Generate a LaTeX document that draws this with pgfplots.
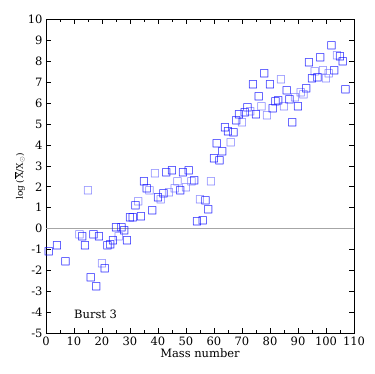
\documentclass[border=0pt]{standalone}
\usepackage{fontspec}
\setmainfont{DejaVu Serif}
\newfontfamily\symf{DejaVu Sans}
\usepackage{pgfplots}
\pgfplotsset{compat=1.18}
\definecolor{dkb}{RGB}{0,0,255}
\definecolor{ltb}{RGB}{110,110,255}

% open squares set as a coloured glyph, so that they keep their colour
\newcommand{\sqmark}[1]{\textcolor{#1}{\fontsize{10.5}{12}\symf\bfseries\char"25A1}}

\pgfplotstableread{
x y
1 -1.1
4 -0.8
7 -1.56
13 -0.4
14 -0.8
16 -2.36
17 -0.29
18 -2.76
19 -0.38
21 -1.93
22 -0.81
23 -0.76
24 -0.57
25 0.03
27 0.05
28 -0.1
29 -0.56
30 0.51
31 0.51
32 1.07
34 0.59
35 2.23
36 1.91
38 0.86
40 1.46
42 1.66
43 2.69
45 2.77
48 1.8
49 2.69
51 2.75
53 2.29
54 0.32
56 0.37
57 1.31
58 0.91
60 3.36
61 4.04
62 3.22
63 3.69
64 4.82
65 4.63
67 4.6
68 5.14
69 5.46
71 5.54
72 5.75
74 6.88
75 5.45
76 6.29
78 7.39
80 6.85
81 5.73
82 6.07
83 6.1
86 6.59
87 6.15
88 5.08
90 5.84
93 6.67
94 7.91
95 7.15
97 7.23
98 8.17
102 8.73
103 7.53
105 8.2
106 7.99
107 6.64
}\dark

\pgfplotstableread{
x y
12 -0.27
15 1.82
20 -1.67
26 -0.41
33 1.29
37 1.8
39 2.61
41 1.4
44 1.7
46 1.89
47 2.26
50 1.97
52 2.25
55 1.4
59 2.26
66 4.12
70 5.08
73 5.59
77 5.83
79 5.38
84 7.13
85 5.83
89 6.24
91 6.51
92 6.39
96 7.47
99 7.53
100 7.15
101 7.39
104 8.28
}\light

\begin{document}
\begin{tikzpicture}
\useasboundingbox (-46pt,-40.7pt) rectangle (328pt,333.3pt);
\begin{axis}[
    at={(0,0)}, anchor=south west,
    scale only axis,
    width=308pt, height=314pt,
    xmin=0, xmax=110, ymin=-5, ymax=10,
    clip=false,
    xtick={0,10,...,110},
    minor x tick num=1,
    ytick={-5,-4,...,10},
    tick align=inside,
    major tick length=5pt,
    minor tick length=3pt,
    tick style={black, line width=0.6pt},
    axis line style={line width=0.6pt},
    /pgf/number format/assume math mode=true,
    xlabel={Mass number},
    ylabel={log\,(\,$\overline{\mbox{X}}$/X$_\odot$)},
    xlabel style={font=\fontsize{11.5}{13}\selectfont, yshift=4pt},
    ylabel style={font=\fontsize{9}{11}\selectfont, yshift=-4pt},
    tick label style={font=\fontsize{11.5}{13}\selectfont},
]
\addplot[gray!70, line width=1pt] coordinates {(0,0) (110,0)};

\addplot[only marks, mark=text, text mark={\sqmark{ltb}}] table {\light};
\addplot[only marks, mark=text, text mark={\sqmark{dkb}}] table {\dark};

\node[anchor=west, font=\fontsize{11.5}{13}\selectfont] at (axis cs:8.8,-4.1) {Burst 3};
\end{axis}
\end{tikzpicture}
\end{document}
